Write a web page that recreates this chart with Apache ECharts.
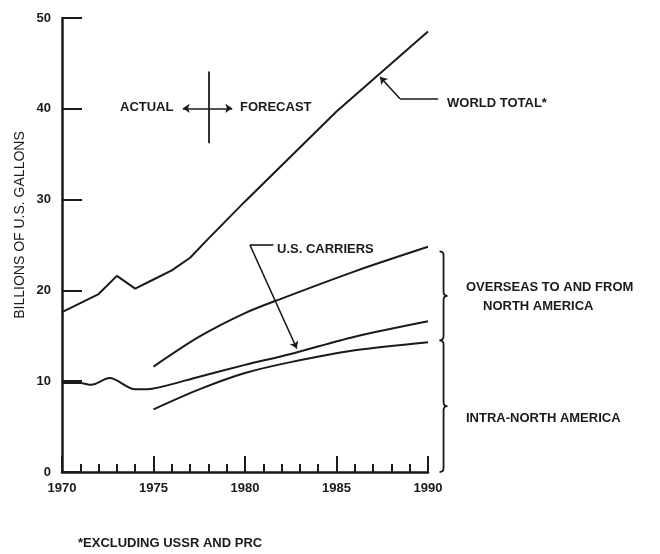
<!DOCTYPE html>
<html><head><meta charset="utf-8">
<script src="https://cdn.jsdelivr.net/npm/echarts@6/dist/echarts.min.js"></script>
<style>html,body{margin:0;padding:0;background:#fff}#c{width:660px;height:554px}</style>
</head><body><div id="c"></div><script>
// ---- data ----
const xTickYears = [1970, 1975, 1980, 1985, 1990];
const yTicks = [0, 10, 20, 30, 40, 50];

const worldYears  = [1970, 1971, 1972, 1973, 1974, 1975, 1976, 1977, 1978, 1980, 1985, 1990];
const worldValues = [17.6, 18.6, 19.6, 21.6, 20.2, 21.2, 22.2, 23.6, 25.7, 29.8, 39.7, 48.5];

const usYears  = [1970, 1971, 1971.6, 1972.6, 1974, 1975, 1977.5, 1980, 1982.5, 1986, 1990];
const usValues = [9.8, 9.8, 9.6, 10.35, 9.1, 9.2, 10.5, 11.8, 13.0, 14.9, 16.6];

const overseasYears  = [1975, 1977.5, 1980, 1982, 1986, 1990];
const overseasValues = [11.6, 14.9, 17.5, 19.1, 22.1, 24.8];

const intraYears  = [1975, 1977.5, 1980, 1982.5, 1986, 1990];
const intraValues = [6.9, 9.1, 10.9, 12.1, 13.4, 14.3];

// annotation anchors (data coords)
const worldLeaderPlain = [[1990.56, 41.1], [1988.47, 41.1]];
const worldLeaderArrow = [[1988.47, 41.1], [1987.38, 43.5]];
const usLeaderPlain    = [[1981.55, 25.0], [1980.27, 25.0]];
const usLeaderArrow    = [[1980.27, 25.0], [1982.83, 13.6]];
const splitVertical    = [[1978, 44.1], [1978, 36.2]];
const splitArrow       = [[1976.6, 40.05], [1979.3, 40.05]];
const braces = [[1990.85, 24.3, 14.5], [1990.85, 14.5, 0]];

// ---- chart ----
const INK = '#1a1a1a';
const FONT = '"Liberation Sans", Arial, sans-serif';
const zip = (xs, ys) => xs.map((x, i) => [x, ys[i]]);

const chart = echarts.init(document.getElementById('c'), null, {renderer: 'canvas'});

const lineSeries = (name, xs, ys, smooth) => ({
  name, type: 'line', data: zip(xs, ys), showSymbol: false, smooth: smooth,
  lineStyle: {color: INK, width: 2}, itemStyle: {color: INK}, z: 3, silent: true
});

const annot = (coordsList, symbol, width) => ({
  type: 'lines', coordinateSystem: 'cartesian2d', clip: false, silent: true,
  symbol: symbol, symbolSize: 7,
  lineStyle: {color: INK, width: width, opacity: 1},
  data: coordsList.map(c => ({coords: c})), z: 4
});

chart.setOption({
  animation: false,
  backgroundColor: '#fff',
  grid: {left: 62, right: 232, top: 18, bottom: 82, containLabel: false},
  xAxis: {
    type: 'value', min: xTickYears[0], max: xTickYears[xTickYears.length - 1], interval: 5,
    axisLine: {lineStyle: {color: INK, width: 2.5}},
    axisTick: {inside: true, length: 16, lineStyle: {color: INK, width: 2}},
    minorTick: {show: true, splitNumber: 5, length: 8, lineStyle: {color: INK, width: 2}},
    axisLabel: {margin: 10, fontSize: 13, fontWeight: 'bold', color: INK, fontFamily: FONT,
      formatter: v => xTickYears.includes(v) ? String(v) : ''},
    splitLine: {show: false}
  },
  yAxis: {
    type: 'value', min: yTicks[0], max: yTicks[yTicks.length - 1], interval: 10,
    axisLine: {show: true, lineStyle: {color: INK, width: 2.5}},
    axisTick: {show: true, inside: true, length: 20, lineStyle: {color: INK, width: 2}},
    axisLabel: {margin: 11, fontSize: 13, fontWeight: 'bold', color: INK, fontFamily: FONT},
    splitLine: {show: false}
  },
  series: [
    lineSeries('World total', worldYears, worldValues, false),
    lineSeries('U.S. carriers', usYears, usValues, 0.3),
    lineSeries('Overseas', overseasYears, overseasValues, 0.3),
    lineSeries('Intra-North America', intraYears, intraValues, 0.3),
    annot([worldLeaderArrow, usLeaderArrow], ['none', 'arrow'], 1.6),
    annot([worldLeaderPlain, usLeaderPlain], ['none', 'none'], 1.6),
    annot([splitArrow], ['arrow', 'arrow'], 1.6),
    annot([splitVertical], ['none', 'none'], 1.8),
    {
      type: 'custom', clip: false, silent: true, encode: {x: 0, y: [1, 2]},
      data: braces,
      renderItem: (params, api) => {
        const p1 = api.coord([api.value(0), api.value(1)]);
        const p2 = api.coord([api.value(0), api.value(2)]);
        const x = p1[0], y1 = p1[1], y2 = p2[1], ym = (y1 + y2) / 2, h = 4;
        const d = `M${x - h},${y1} Q${x},${y1} ${x},${y1 + h} L${x},${ym - h} Q${x},${ym} ${x + h},${ym} ` +
                  `Q${x},${ym} ${x},${ym + h} L${x},${y2 - h} Q${x},${y2} ${x - h},${y2}`;
        return {type: 'path', shape: {pathData: d, x: x - h, y: y1, width: 2 * h, height: y2 - y1, layout: 'cover'},
          style: {fill: 'none', stroke: INK, lineWidth: 1.8}};
      }
    }
  ],
  graphic: [
    {type: 'text', x: 20, y: 225, rotation: Math.PI / 2,
      style: {text: 'BILLIONS OF U.S. GALLONS', align: 'center', verticalAlign: 'middle', fill: INK, font: '14px ' + FONT}},
    ...[
      ['ACTUAL', 120, 107],
      ['FORECAST', 240, 107],
      ['WORLD TOTAL*', 447, 103],
      ['U.S. CARRIERS', 277, 249],
      ['OVERSEAS TO AND FROM', 466, 287],
      ['NORTH AMERICA', 483, 306],
      ['INTRA-NORTH AMERICA', 466, 418],
      ['*EXCLUDING USSR AND PRC', 78, 543]
    ].map(([t, x, y]) => ({type: 'text', x, y,
      style: {text: t, align: 'left', verticalAlign: 'middle', fill: INK, font: 'bold 13px ' + FONT}}))
  ]
});
</script></body></html>
